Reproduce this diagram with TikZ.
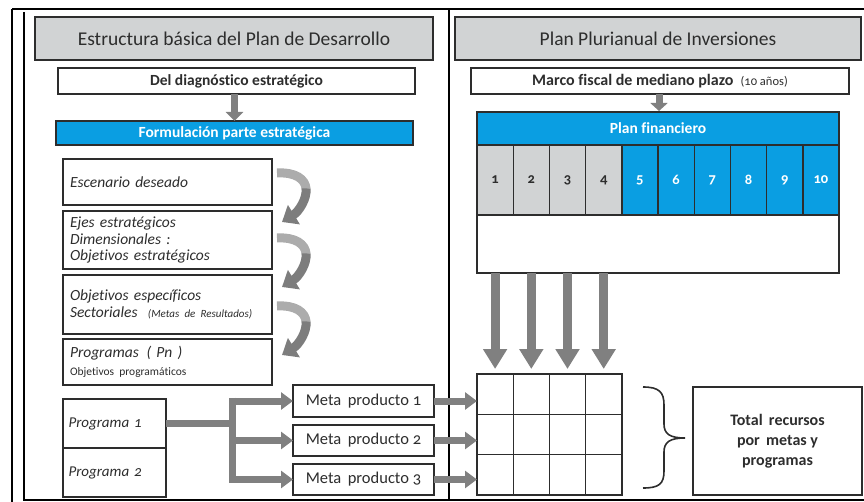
\documentclass[tikz,border=0pt]{standalone}
\usepackage{fontspec}
\setmainfont{Carlito}[Numbers=OldStyle,Ligatures=NoCommon]
\usetikzlibrary{arrows.meta,calc}
\definecolor{bblue}{RGB}{10,158,226}
\definecolor{hgray}{RGB}{209,211,212}
\definecolor{agray}{RGB}{128,128,128}
\definecolor{lgray}{RGB}{172,172,172}
\definecolor{dgray}{RGB}{125,125,125}
\definecolor{ink}{RGB}{45,45,45}
\tikzset{
  box/.style={draw=ink,line width=1.4pt,inner sep=0pt,outer sep=0pt,text=ink},
  header/.style={box,fill=hgray,font=\fontsize{19.5}{22}\selectfont},
  bluebox/.style={box,fill=bblue,text=white,font=\bfseries\fontsize{15.5}{17}\selectfont},
  whitebox/.style={box,fill=white},
  leftbox/.style={box,fill=white,minimum width=209pt,text width=195pt,align=left,font=\itshape\fontsize{15.5}{16.5}\selectfont},
  gcell/.style={box,fill=hgray,minimum width=36.2pt,minimum height=70pt,font=\bfseries\fontsize{14.5}{16}\selectfont},
  bcell/.style={box,fill=bblue,text=white,minimum width=36.2pt,minimum height=70pt,font=\bfseries\fontsize{14.5}{16}\selectfont},
  metabox/.style={box,fill=white,minimum width=141pt,minimum height=31pt,font=\fontsize{16.5}{18}\selectfont},
  progbox/.style={box,fill=white,minimum width=103pt,minimum height=49pt,text width=92pt,align=left,font=\itshape\fontsize{15}{17}\selectfont},
  bigdown/.style={draw=agray,line width=9pt,-{Triangle[width=23pt,length=20pt]}},
  smallarr/.style={draw=agray,line width=7pt,-{Triangle[width=17pt,length=12pt]}},
  branch/.style={draw=agray,line width=7pt},
  curvelight/.style={draw=lgray,line width=9pt},
  curvedark/.style={draw=dgray,line width=9pt,-{Triangle[width=22pt,length=14pt]}},
  frameline/.style={draw=black,line width=1.3pt}
}
\begin{document}
\begin{tikzpicture}[x=1pt,y=-1pt]
\useasboundingbox (0,0) rectangle (864,502);
% frame
\draw[frameline,line width=2.2pt] (12,9) -- (864,9);
\draw[frameline] (12,9) -- (12,502);
\draw[frameline] (24,12) -- (24,500) -- (864,500);
\draw[frameline] (449,9) -- (449,500);

% headers
\node[header,minimum width=398pt,minimum height=43pt] (hl) at (234,38.5) {Estructura básica del Plan de Desarrollo};
\node[header,minimum width=406pt,minimum height=43pt] (hr) at (658,38.5) {Plan Plurianual de Inversiones};

% left top
\node[whitebox,minimum width=357pt,minimum height=26pt,font=\bfseries\fontsize{15.5}{17}\selectfont] (diag) at (236.5,81) {Del diagnóstico estratégico};
\node[bluebox,minimum width=357pt,minimum height=24pt] (form) at (234.5,133) {Formulación parte estratégica};
\draw[draw=agray,line width=7pt,-{Triangle[width=17pt,length=9pt]}] (diag.south -| form.north) -- (form.north);

% left strategic boxes
\node[leftbox,minimum height=46pt] (esc) at (167.5,182) {Escenario deseado};
\node[leftbox,minimum height=58pt] (ejes) at (167.5,240) {Ejes estratégicos\\Dimensionales :\\Objetivos estratégicos};
\node[leftbox,minimum height=59pt] (obj) at (167.5,304.5) {Objetivos específicos\\[1pt]Sectoriales\ \ {\fontsize{11}{12}\selectfont(Metas de Resultados)}};
\node[leftbox,minimum height=46pt] (prog) at (167.5,362) {Programas\,\ (\ Pn\ )\\[1pt]{\upshape\fontsize{11.5}{12}\selectfont Objetivos programáticos}};

% curved arrows (two tones: light start, dark end with head)
\foreach \a/\dy in {esc/14,ejes/27,obj/31}{
  \coordinate (s) at ($(\a.north east)+(5,\dy)$);
  \draw[curvelight] (s) .. controls ($(s)+(18.5,-1)$) and ($(s)+(28.25,6)$) .. ($(s)+(29.1,15.9)$);
  \draw[curvedark] ($(s)+(29.1,15.4)$) .. controls ($(s)+(30,25.75)$) and ($(s)+(22,38.5)$) .. ($(s)+(5,49)$);
}

% Programa boxes
\node[progbox] (p1) at (114.5,423.5) {Programa 1};
\node[progbox] (p2) at (114.5,472.5) {Programa 2};

% meta boxes
\node[metabox,minimum height=32pt] (m1) at (363.5,401) {Meta\, producto 1};
\node[metabox] (m2) at (363.5,440.5) {Meta\, producto 2};
\node[metabox] (m3) at (363.5,479.5) {Meta\, producto 3};

\coordinate (bx) at (232,0);
\draw[branch] (p1.east) -- (p1.east -| bx);
\draw[branch] ($(m1.west -| bx)+(0,-3.5)$) -- ($(m3.west -| bx)+(0,3.5)$);
\draw[smallarr] (m1.west -| bx) -- (m1.west);
\draw[smallarr] (m2.west -| bx) -- (m2.west);
\draw[smallarr] (m3.west -| bx) -- (m3.west);

% right top
\node[whitebox,minimum width=378pt,minimum height=26pt] (marco) at (660,81) {\bfseries\fontsize{16}{18}\selectfont Marco fiscal de mediano plazo\ \ {\mdseries\fontsize{12.5}{14}\selectfont(10 años)}};
\node[bluebox,minimum width=362pt,minimum height=33pt] (fin) at (658,128.5) {Plan financiero};
\draw[draw=agray,line width=7pt,-{Triangle[width=17pt,length=8pt]}] (marco.south -| 659,0) -- (659,111);

% cells
\foreach \i in {1,...,10}{
  \ifnum\i<5
    \node[gcell] (c\i) at ({477+36.2*(\i-0.5)},180) {\i};
  \else
    \node[bcell] (c\i) at ({477+36.2*(\i-0.5)},180) {\i};
  \fi
}
\node[whitebox,minimum width=362pt,minimum height=58pt] (fw) at (658,244) {};

% grid
\node[box,fill=white,minimum width=145pt,minimum height=121pt] (grid) at (549.5,434.5) {};
\foreach \k in {1,2,3}{
  \draw[draw=ink,line width=1.4pt] ($(grid.north west)+(36.25*\k,0)$) -- ($(grid.south west)+(36.25*\k,0)$);
}
\foreach \k in {1,2}{
  \draw[draw=ink,line width=1.4pt] ($(grid.north west)+(0,40.33*\k)$) -- ($(grid.north east)+(0,40.33*\k)$);
}
% down arrows
\foreach \i in {1,...,4}{
  \draw[bigdown] (c\i |- fw.south) -- ($(c\i |- grid.north)+(0,-5)$);
}
% meta to grid
\draw[smallarr] (m1.east) -- (m1.east -| grid.west);
\draw[smallarr] (m2.east) -- (m2.east -| grid.west);
\draw[smallarr] (m3.east) -- (m3.east -| grid.west);

% brace
\coordinate (bt) at (643,387);
\coordinate (bb) at (643,488);
\draw[draw=ink,line width=1.6pt] (bt) .. controls (659,387) and (664,392) .. (664,405) -- (664,424) .. controls (664,434) and (670,438) .. (685,438) .. controls (670,438) and (664,442) .. (664,452) -- (664,471) .. controls (664,484) and (659,488) .. (bb);

% total
\node[box,fill=white,minimum width=169pt,minimum height=108pt,align=center,font=\bfseries\fontsize{16}{20}\selectfont] (tot) at (777.5,441) {Total\, recursos\\por\, metas y\\programas};
\end{tikzpicture}
\end{document}
